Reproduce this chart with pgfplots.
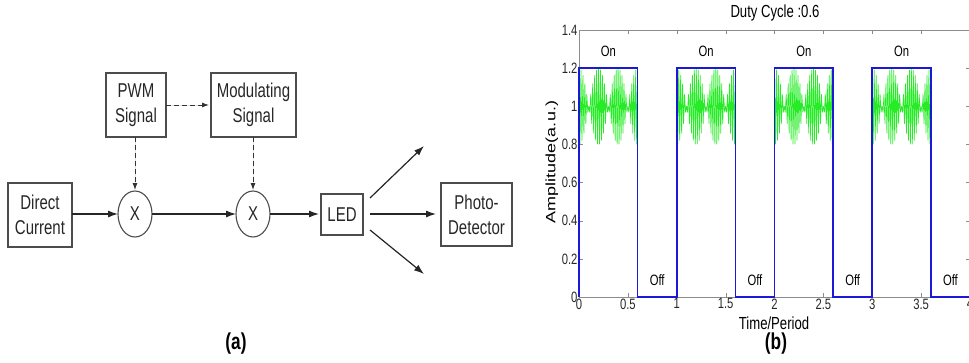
\documentclass[border=0pt]{standalone}
\usepackage{pgfplots}
\pgfplotsset{compat=1.18}
\usepackage{pgfplotstable}
\usepackage{graphicx}
\usepackage{fontspec}
\setmainfont[FakeStretch=0.75]{Liberation Sans}
\newfontfamily\plainfont{Liberation Sans}
\usetikzlibrary{arrows.meta}
\definecolor{sqblue}{RGB}{25,25,215}
\definecolor{sggreen}{RGB}{40,235,40}

% one "on" interval of the modulated signal (t relative to start of period)
\pgfplotstableread{
t y
0.00 1.200
0.01 0.802
0.02 1.190
0.03 0.822
0.04 1.162
0.05 0.859
0.06 1.118
0.07 0.909
0.08 1.062
0.09 0.969
0.10 1.000
0.11 0.969
0.12 1.062
0.13 0.909
0.14 1.118
0.15 0.859
0.16 1.162
0.17 0.822
0.18 1.190
0.19 0.802
0.20 1.200
0.21 0.802
0.22 1.190
0.23 0.822
0.24 1.162
0.25 0.859
0.26 1.118
0.27 0.909
0.28 1.062
0.29 0.969
0.30 1.000
0.31 0.969
0.32 1.062
0.33 0.909
0.34 1.118
0.35 0.859
0.36 1.162
0.37 0.822
0.38 1.190
0.39 0.802
0.40 1.200
0.41 0.802
0.42 1.190
0.43 0.822
0.44 1.162
0.45 0.859
0.46 1.118
0.47 0.909
0.48 1.062
0.49 0.969
0.50 1.000
0.51 0.969
0.52 1.062
0.53 0.909
0.54 1.118
0.55 0.859
0.56 1.162
0.57 0.822
0.58 1.190
0.59 0.802
0.60 1.200
}\onper

\begin{document}
\begin{tikzpicture}[x=1pt,y=1pt,
  blk/.style={draw=black!70, line width=1.1pt},
  arr/.style={-{Latex[length=10pt,width=7pt]}, line width=1.2pt, draw=black!85, fill=black!85},
  darr/.style={-{Latex[length=7pt,width=5pt]}, line width=0.9pt, draw=black!80, fill=black!80, dash pattern=on 5pt off 3pt},
  dtxt/.style={font=\fontsize{20}{25}\selectfont, align=center, text=black!85}]
\useasboundingbox (0,0) rectangle (969,-362);

% ---------------- block diagram (a) ----------------
\draw[blk] (8,-183) rectangle (72,-247);
\node[dtxt] at (40,-215) {Direct\\Current};
\draw[blk] (106,-73) rectangle (166,-137);
\node[dtxt] at (136,-105) {PWM\\Signal};
\draw[blk] (211,-73) rectangle (296,-137);
\node[dtxt] at (253.5,-105) {Modulating\\Signal};
\draw[blk] (135,-214) ellipse [x radius=17, y radius=23];
\node[dtxt] at (135,-214) {X};
\draw[blk] (253,-214) ellipse [x radius=17, y radius=23];
\node[dtxt] at (253,-214) {X};
\draw[blk] (321,-194) rectangle (363,-235);
\node[dtxt] at (342,-214.5) {LED};
\draw[blk] (441,-183) rectangle (512,-246);
\node[dtxt] at (476.5,-214.5) {Photo-\\Detector};

\draw[arr] (72,-214) -- (118,-214);
\draw[arr] (152,-214) -- (236,-214);
\draw[arr] (270,-214) -- (319,-214);
\draw[arr] (370,-214) -- (436,-214);
\draw[arr] (370,-198) -- (424,-146);
\draw[arr] (370,-230) -- (424,-274);
\draw[darr] (166,-105) -- (209,-105);
\draw[darr] (135,-137) -- (135,-190);
\draw[darr] (253,-137) -- (253,-190);
\node[font=\fontsize{23}{23}\selectfont\bfseries] at (236,-344) {(a)};

% ---------------- plot (b) ----------------
\begin{axis}[at={(579pt,-297pt)}, anchor=south west, scale only axis,
  width=391pt, height=267pt,
  xmin=0, xmax=4, ymin=0, ymax=1.4,
  xtick={0,0.5,1,1.5,2,2.5,3,3.5,4},
  ytick={0,0.2,0.4,0.6,0.8,1,1.2,1.4},
  axis line style={black!45},
  tick style={black!45},
  major tick length=4pt,
  tick align=inside,
  tick label style={font=\fontsize{15}{15}\selectfont, text=black!85},
  xticklabel style={yshift=2pt},
  yticklabel style={xshift=2pt},
  /pgf/number format/assume math mode=true,
  clip=false]
\addplot[sggreen, line width=0.7pt, line join=round] table[x expr=\thisrow{t}, y=y] {\onper};
\addplot[sggreen, line width=0.7pt, line join=round] table[x expr=\thisrow{t}+1, y=y] {\onper};
\addplot[sggreen, line width=0.7pt, line join=round] table[x expr=\thisrow{t}+2, y=y] {\onper};
\addplot[sggreen, line width=0.7pt, line join=round] table[x expr=\thisrow{t}+3, y=y] {\onper};
\addplot[sqblue, line width=1.6pt] coordinates {
(0,0) (0,1.2) (0.6,1.2) (0.6,0) (1,0) (1,1.2) (1.6,1.2) (1.6,0)
(2,0) (2,1.2) (2.6,1.2) (2.6,0) (3,0) (3,1.2) (3.6,1.2) (3.6,0) (4,0)};
\foreach \k in {0,1,2,3}{
  \edef\tmp{\noexpand\node[font=\noexpand\fontsize{15}{15}\noexpand\selectfont] at (axis cs:\k.3,1.29) {On};
  \noexpand\node[font=\noexpand\fontsize{15}{15}\noexpand\selectfont] at (axis cs:\k.8,0.09) {Off};}
  \tmp
}
\end{axis}
\node[font=\fontsize{17.5}{17.5}\selectfont] at (775,-13) {Duty Cycle :0.6};
\node[font=\fontsize{17.5}{17.5}\selectfont] at (774,-323) {Time/Period};
\node at (552,-162) {\scalebox{0.75}[1]{\rotatebox{90}{\plainfont\fontsize{18}{18}\selectfont Amplitude(a.u.)}}};
\node[font=\fontsize{23}{23}\selectfont\bfseries] at (776,-344) {(b)};
\end{tikzpicture}
\end{document}
